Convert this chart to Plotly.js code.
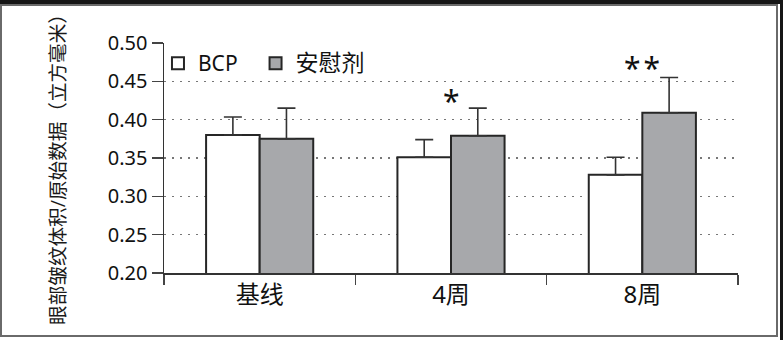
<!DOCTYPE html>
<html>
<head>
<meta charset="utf-8">
<script src="https://cdn.plot.ly/plotly-3.0.1.min.js"></script>
<style>
  html, body { margin: 0; padding: 0; background: #fff; }
  #wrap { position: relative; width: 783px; height: 340px; overflow: hidden; }
  #chart { position: absolute; left: 0; top: 0; width: 783px; height: 340px; }
  .fr { position: absolute; pointer-events: none; }
</style>
</head>
<body>
<div id="wrap">
  <div id="chart"></div>
  <div class="fr" style="left:0;top:0;width:783px;height:4px;background:#151515;"></div>
  <div class="fr" style="left:780px;top:0;width:3px;height:340px;background:#151515;"></div>
  <div class="fr" style="left:0;top:4px;width:774px;height:329px;border:2px solid #6a6a6a;"></div>
</div>
<script>
// ---- data ----
const categories = ['基线', '4周', '8周'];
const bcpValues = [0.380, 0.351, 0.328];
const bcpErrors = [0.0235, 0.023, 0.023];
const placeboValues = [0.375, 0.379, 0.409];
const placeboErrors = [0.040, 0.036, 0.046];
const seriesNames = ['BCP', '<span style="font-size:23px">安慰剂</span>'];
const yTicks = [0.20, 0.25, 0.30, 0.35, 0.40, 0.45, 0.50];
const yTickLabels = ['0.20', '0.25', '0.30', '0.35', '0.40', '0.45', '0.50'];
const yTitle = '眼部皱纹体积/原始数据（立方毫米）';
const marks = [
  { category: '4周', text: '*' },
  { category: '8周', text: '*\u200a*' }
];
const markLevels = [0.4255, 0.4675];

const FONT = '"Noto Sans", "Noto Sans CJK SC", sans-serif';
const OUTLINE = '#262626';

function errBar(arr) {
  return {
    type: 'data', array: arr, symmetric: false,
    arrayminus: arr.map(() => 0),
    color: '#333333', thickness: 1.6, width: 9
  };
}

const traces = [
  {
    type: 'bar', name: seriesNames[0], x: categories, y: bcpValues,
    marker: { color: '#ffffff', line: { color: OUTLINE, width: 2 } },
    error_y: errBar(bcpErrors), legend: 'legend'
  },
  {
    type: 'bar', name: seriesNames[1], x: categories, y: placeboValues,
    marker: { color: '#a7a8ab', line: { color: OUTLINE, width: 2 } },
    error_y: errBar(placeboErrors), legend: 'legend2'
  }
];

const annotations = marks.map((m, i) => ({
  x: m.category, y: markLevels[i], xref: 'x', yref: 'y',
  text: m.text, showarrow: false,
  font: { family: FONT, size: 30, color: '#111' },
  xanchor: 'center', yanchor: 'middle'
}));
annotations.push({
  xref: 'paper', yref: 'paper', x: -0.186, y: 0.471,
  text: yTitle, textangle: -90, showarrow: false,
  font: { family: FONT, size: 19.6, color: '#1a1a1a' },
  xanchor: 'center', yanchor: 'middle'
});

const legendBase = {
  orientation: 'h', y: 1.0, xanchor: 'left', yanchor: 'top',
  bgcolor: 'rgba(0,0,0,0)',
  font: { family: FONT, size: 21, color: '#111' }
};

const layout = {
  width: 783, height: 340,
  margin: { l: 164, r: 45, t: 43, b: 67 },
  paper_bgcolor: 'rgba(0,0,0,0)',
  plot_bgcolor: 'rgba(0,0,0,0)',
  font: { family: FONT, color: '#111' },
  barmode: 'group', bargap: 0.44, bargroupgap: 0,
  showlegend: true,
  legend: Object.assign({}, legendBase, { x: -0.0105 }),
  legend2: Object.assign({}, legendBase, { x: 0.1595 }),
  xaxis: {
    type: 'category', tickson: 'boundaries',
    ticks: 'outside', ticklen: 10, tickwidth: 1.5, tickcolor: '#444',
    showline: true, linecolor: '#333', linewidth: 1.5,
    showgrid: false, zeroline: false,
    tickfont: { family: FONT, size: 24, color: '#111' }
  },
  yaxis: {
    range: [0.2, 0.5], tickvals: yTicks, ticktext: yTickLabels,
    ticks: 'outside', ticklen: 11, tickwidth: 1.5, tickcolor: '#444',
    showline: true, linecolor: '#333', linewidth: 1.5,
    showgrid: true, gridcolor: '#777', gridwidth: 1.5, griddash: '1.5px,6.5px',
    zeroline: false,
    tickfont: { family: FONT, size: 20, color: '#111' }
  },
  annotations: annotations
};

Plotly.newPlot('chart', traces, layout, { staticPlot: true, displayModeBar: false });
</script>
</body>
</html>
